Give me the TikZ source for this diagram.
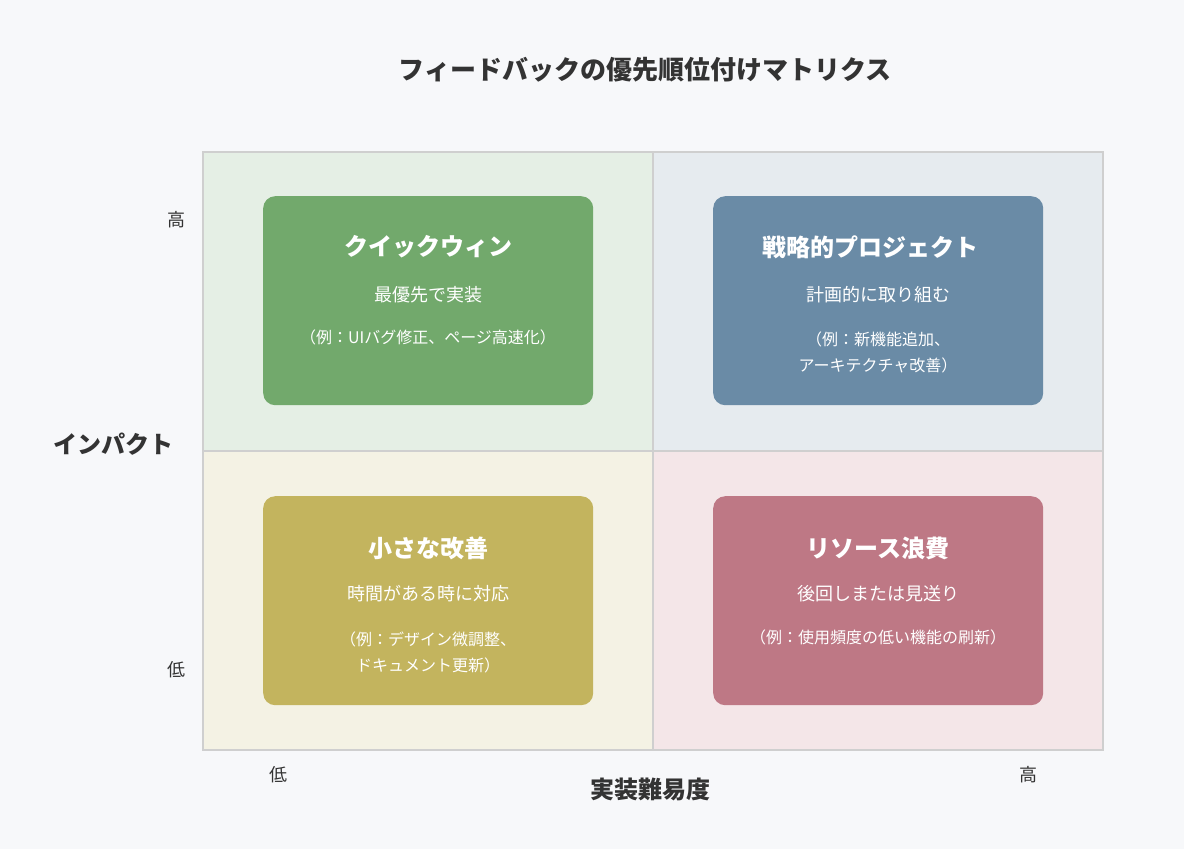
\documentclass[tikz,border=0pt]{standalone}
\usepackage{fontspec}
\setmainfont{Noto Sans CJK JP}
\usetikzlibrary{positioning}

\definecolor{bgpage}{HTML}{F7F8FA}
\definecolor{gridline}{HTML}{CFCFCF}
\definecolor{inktext}{HTML}{333333}
\definecolor{qwinbg}{HTML}{E5EFE5}
\definecolor{qstratbg}{HTML}{E6EBEF}
\definecolor{qminorbg}{HTML}{F4F2E4}
\definecolor{qwastebg}{HTML}{F4E6E8}
\definecolor{qwin}{HTML}{72A96C}
\definecolor{qstrat}{HTML}{6A8BA6}
\definecolor{qminor}{HTML}{C3B45E}
\definecolor{qwaste}{HTML}{BE7885}

\tikzset{
	quadbox/.style={rounded corners=12pt, minimum width=330pt, minimum height=209pt, anchor=north west},
	boxhead/.style={text=white, font=\bfseries\fontsize{24}{28}\selectfont},
	boxsub/.style={text=white, font=\fontsize{18}{22}\selectfont},
	boxnote/.style={text=white, font=\fontsize{16}{26}\selectfont, align=center},
	axislabel/.style={text=inktext, font=\fontsize{18}{22}\selectfont},
	axistitle/.style={text=inktext, font=\bfseries\fontsize{24}{28}\selectfont}
}

\begin{document}
\begin{tikzpicture}[x=1pt, y=-1pt]

	\fill[bgpage] (0,0) rectangle (1184,849);
	\useasboundingbox (0,0) rectangle (1184,849);

	% quadrant backgrounds
	\fill[qwinbg] (203,152) rectangle (653,451);
	\fill[qstratbg] (653,152) rectangle (1103,451);
	\fill[qminorbg] (203,451) rectangle (653,750);
	\fill[qwastebg] (653,451) rectangle (1103,750);
	\draw[gridline, line width=2pt] (203,152) rectangle (1103,750);
	\draw[gridline, line width=2pt] (653,152) -- (653,750);
	\draw[gridline, line width=2pt] (203,451) -- (1103,451);

	\node[text=inktext, font=\bfseries\fontsize{26}{30}\selectfont] (title) at (645,70) {フィードバックの優先順位付けマトリクス};

	% boxes
	\node[quadbox, fill=qwin] (win) at (263,196) {};
	\node[quadbox, fill=qstrat] (strat) at (713,196) {};
	\node[quadbox, fill=qminor] (minor) at (263,496) {};
	\node[quadbox, fill=qwaste] (waste) at (713,496) {};

	\node[boxhead] (winhead) at (428,247) {クイックウィン};
	\node[boxsub] (winsub) at (428,295) {最優先で実装};
	\node[boxnote] (winnote) at (428,337) {（例：UIバグ修正、ページ高速化）};

	\node[boxhead] (strathead) at (870,247) {戦略的プロジェクト};
	\node[boxsub] (stratsub) at (878,295) {計画的に取り組む};
	\node[boxnote] (stratnote) at (878,352) {（例：新機能追加、\\アーキテクチャ改善）};

	\node[boxhead] (minorhead) at (428,548) {小さな改善};
	\node[boxsub] (minorsub) at (428,594) {時間がある時に対応};
	\node[boxnote] (minornote) at (428,652) {（例：デザイン微調整、\\ドキュメント更新）};

	\node[boxhead] (wastehead) at (878,548) {リソース浪費};
	\node[boxsub] (wastesub) at (878,594) {後回しまたは見送り};
	\node[boxnote] (wastenote) at (878,637) {（例：使用頻度の低い機能の刷新）};

	% axes
	\node[axislabel] (yhigh) at (176,220) {高};
	\node[axislabel] (ylow) at (176,670) {低};
	\node[axistitle] (ytitle) at (113,444) {インパクト};
	\node[axislabel] (xlow) at (278,775) {低};
	\node[axislabel] (xhigh) at (1028,775) {高};
	\node[axistitle] (xtitle) at (650,789) {実装難易度};

\end{tikzpicture}
\end{document}
